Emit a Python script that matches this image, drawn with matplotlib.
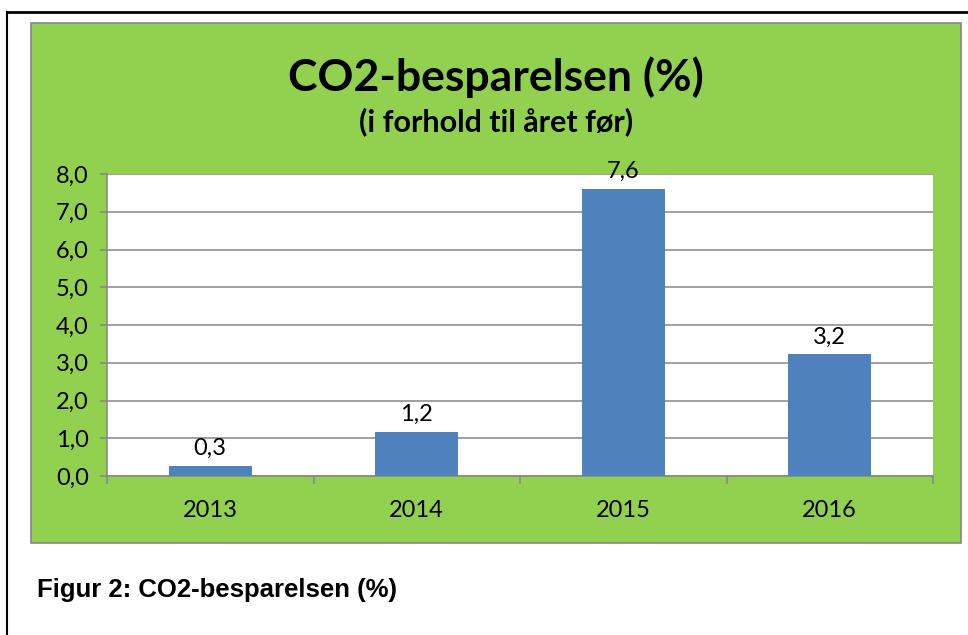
import matplotlib.pyplot as plt
from matplotlib.patches import Rectangle
from matplotlib.lines import Line2D

years = ["2013", "2014", "2015", "2016"]
savings = [0.26, 1.16, 7.61, 3.22]
yticks = [0, 1, 2, 3, 4, 5, 6, 7, 8]

green = "#92D050"
blue = "#4F81BD"
grey = "#868686"

plt.rcParams["font.family"] = ["Lato", "DejaVu Sans"]

fig = plt.figure(figsize=(9.68, 6.35), dpi=100)
fig.patch.set_facecolor("white")

# outer frame (left and top edges visible)
fig.add_artist(Line2D([7 / 968, 7 / 968], [0, 1 - 12 / 635], color="black", lw=1.5))
fig.add_artist(Line2D([7 / 968, 1], [1 - 12 / 635, 1 - 12 / 635], color="black", lw=2))

# green chart area
fig.add_artist(Rectangle((31 / 968, 1 - 543 / 635), 930 / 968, 520 / 635,
                         facecolor=green, edgecolor=grey, lw=1.2, zorder=0))

ax = fig.add_axes([107 / 968, 1 - 476 / 635, 826 / 968, 302 / 635])
ax.set_facecolor("white")

x = list(range(len(years)))
bars = ax.bar(x, savings, width=0.4, color=blue, zorder=3)

for xi, v in zip(x, savings):
    ax.annotate(f"{v:.1f}".replace(".", ","), (xi, v), xytext=(0, 5),
                textcoords="offset points", ha="center", va="bottom",
                fontsize=17, zorder=4)

ax.set_xlim(-0.5, len(years) - 0.5)
ax.set_ylim(0, 8)
ax.set_yticks(yticks)
ax.set_yticklabels([f"{t:.1f}".replace(".", ",") for t in yticks], fontsize=17)
ax.yaxis.grid(True, color=grey, lw=1.1, zorder=0)

ax.set_xticks([i - 0.5 for i in range(len(years) + 1)])
ax.set_xticklabels([])
ax.set_xticks(x, minor=True)
ax.set_xticklabels(years, minor=True, fontsize=17)
ax.tick_params(axis="x", which="minor", length=0, pad=17)
ax.tick_params(axis="x", which="major", length=6, width=1.1, color=grey)
ax.tick_params(axis="y", length=5, width=1.1, color=grey, pad=8)

for side in ["top", "right"]:
    ax.spines[side].set_visible(False)
for side in ["left", "bottom"]:
    ax.spines[side].set_color(grey)
    ax.spines[side].set_linewidth(1.1)

fig.text(0.512, 1 - 91 / 635, "CO2-besparelsen (%)", ha="center", va="baseline",
         fontsize=32, fontweight="bold")
fig.text(0.512, 1 - 131 / 635, "(i forhold til året før)", ha="center", va="baseline",
         fontsize=22, fontweight="bold")

fig.text(37 / 968, 1 - 590 / 635, "Figur 2: CO2-besparelsen (%)", ha="left", va="center",
         fontsize=18.5, fontweight="bold", family=["Liberation Sans", "DejaVu Sans"])

fig.savefig("out.png", dpi=100)
